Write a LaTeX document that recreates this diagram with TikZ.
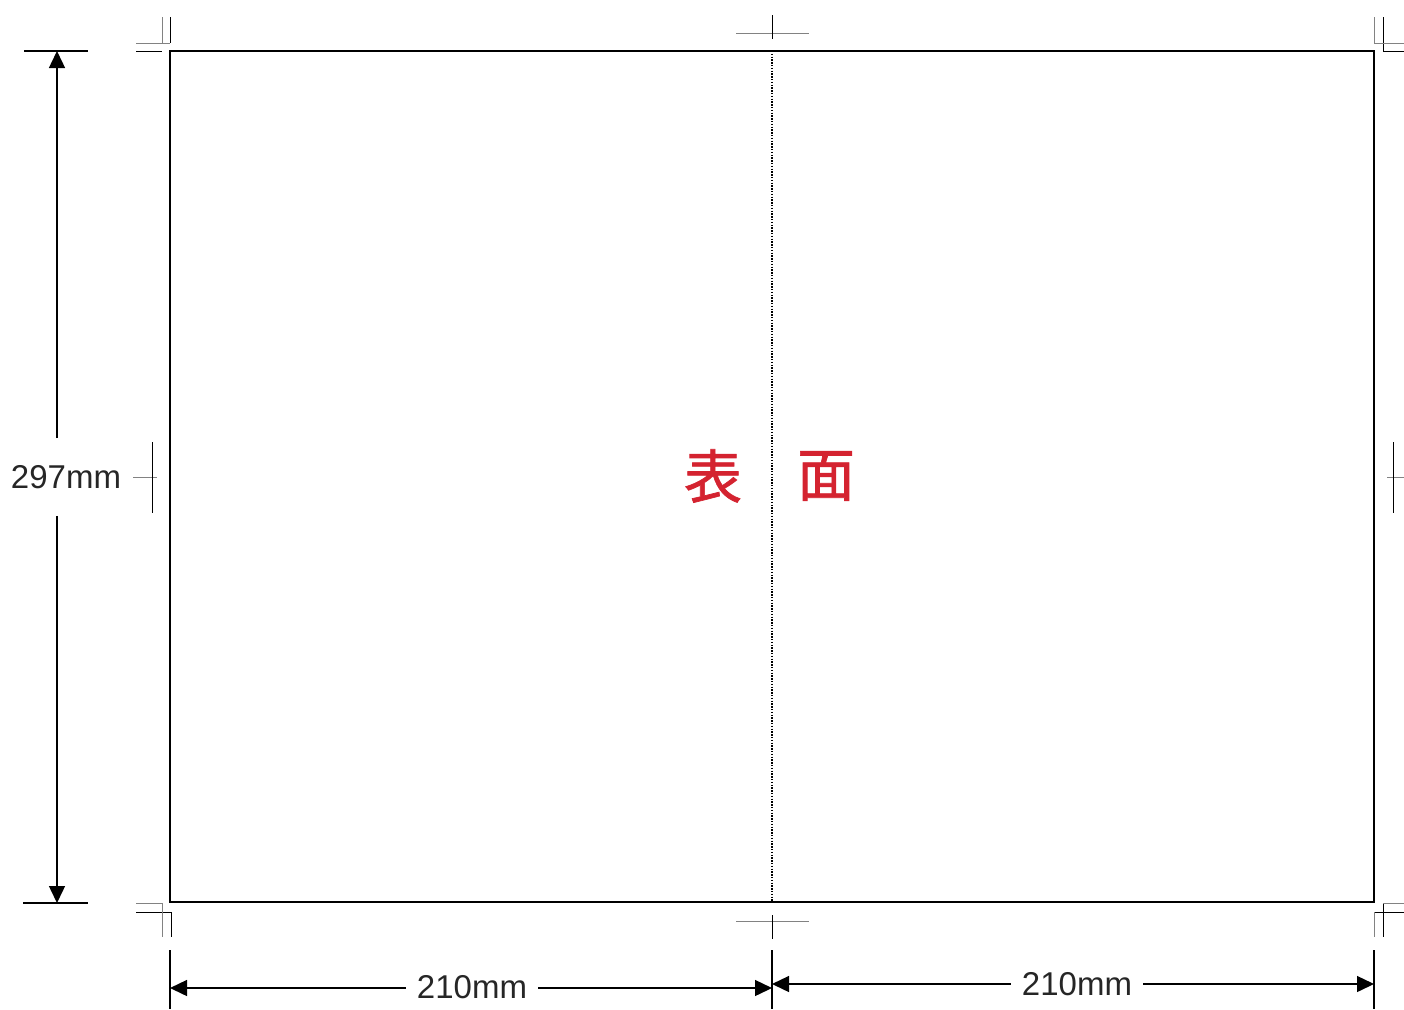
\documentclass[tikz,border=0pt]{standalone}
\usepackage{fontspec}
\setmainfont{Liberation Sans}
\newfontfamily\jpfont{Noto Sans CJK JP}[FakeBold=1.2]
\usetikzlibrary{arrows.meta}
\definecolor{omotered}{RGB}{212,35,48}
\definecolor{markgray}{RGB}{130,130,130}

\begin{document}
\begin{tikzpicture}[
			x=1pt, y=-1pt,
			dimline/.style = {line width=1.4pt, -{Triangle[length=17pt,width=16pt]}},
			dimtext/.style = {font=\fontsize{33}{33}\selectfont, text=black!85},
			extline/.style = {line width=1.3pt},
			trimline/.style = {line width=1pt},
			bleedline/.style = {line width=1pt, markgray}
		]
		\useasboundingbox (0,0) rectangle (1404,1009);
		% sheet and fold
		\draw[line width=2.3pt] (170,51) rectangle (1374,902);
		\draw[line width=1.5pt, dash pattern=on 1.4pt off 1.4pt] (772,51) -- (772,902);
		\node[text=omotered, font=\jpfont\fontsize{58}{58}\selectfont] (front1) at (713,476) {表};
		\node[text=omotered, font=\jpfont\fontsize{58}{58}\selectfont] (front2) at (826,476) {面};
		% corner marks
		\draw[trimline] (170,17) -- (170,43) (136,51) -- (162,51);
		\draw[bleedline] (162,17) -- (162,43) (136,43) -- (170,43);
		\draw[trimline] (1383,17) -- (1383,51) -- (1404,51);
		\draw[bleedline] (1374,17) -- (1374,43) -- (1404,43);
		\draw[trimline] (136,912) -- (171,912) (171,912) -- (171,937);
		\draw[bleedline] (136,903) -- (162,903) (162,903) -- (162,937);
		\draw[trimline] (1374,912) -- (1404,912) (1383,903) -- (1383,937);
		\draw[bleedline] (1383,903) -- (1404,903) (1374,912) -- (1374,937);
		% centre marks
		\draw[bleedline] (736,33) -- (809,33) (736,921) -- (809,921);
		\draw[trimline] (772,15) -- (772,39) (772,915) -- (772,939);
		\draw[bleedline] (133,477) -- (157,477) (1387,477) -- (1404,477);
		\draw[trimline] (152,442) -- (152,513) (1393,442) -- (1393,513);
		% height
		\coordinate (htop) at (57,51);
		\coordinate (hbot) at (57,903);
		\draw[extline] (24,51) -- (88,51) (23,903) -- (88,903);
		\node[dimtext, inner ysep=27pt, inner xsep=0pt] (height) at (66,477) {297mm};
		\draw[dimline] (height.north -| htop) -- (htop);
		\draw[dimline] (height.south -| hbot) -- (hbot);
		% widths
		\draw[extline] (170,950) -- (170,1009) (772,950) -- (772,1009) (1374,950) -- (1374,1009);
		\coordinate (wl) at (170,988);
		\coordinate (wm1) at (772,988);
		\coordinate (wm2) at (772,984);
		\coordinate (wr) at (1374,984);
		\node[dimtext, inner xsep=11pt] (width1) at (472,987) {210mm};
		\node[dimtext, inner xsep=11pt] (width2) at (1077,984) {210mm};
		\draw[dimline] (width1.west |- wl) -- (wl);
		\draw[dimline] (width1.east |- wm1) -- (wm1);
		\draw[dimline] (width2.west |- wm2) -- (wm2);
		\draw[dimline] (width2.east |- wr) -- (wr);
	\end{tikzpicture}
\end{document}
